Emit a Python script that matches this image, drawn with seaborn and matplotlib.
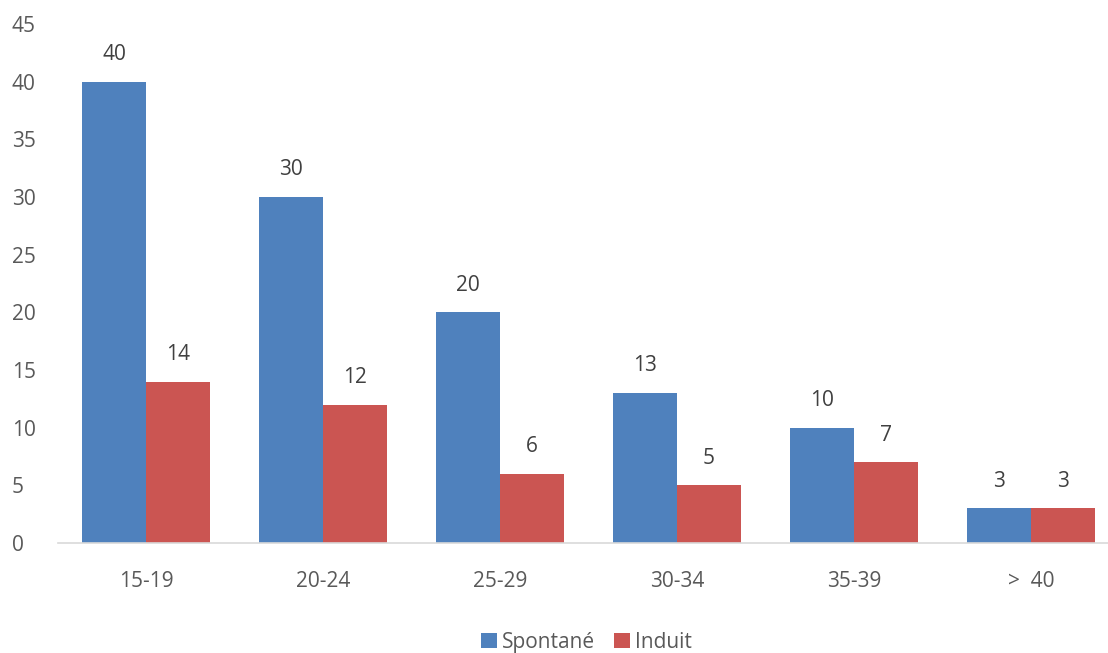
import matplotlib
matplotlib.use("Agg")
import matplotlib.pyplot as plt
import seaborn as sns
import pandas as pd

categories = ["15-19", "20-24", "25-29", "30-34", "35-39", ">  40"]
spontane = [40, 30, 20, 13, 10, 3]
induit = [14, 12, 6, 5, 7, 3]
series_names = ["Spontané", "Induit"]
colors = ["#4F81BD", "#CB5552"]

df = pd.DataFrame({
    "Age": categories * 2,
    "Valeur": spontane + induit,
    "Type": [series_names[0]] * len(categories) + [series_names[1]] * len(categories),
})

sns.set_theme(style="white")
plt.rcParams['font.family'] = ['Open Sans', 'DejaVu Sans']

fig = plt.figure(figsize=(11.08, 6.53), dpi=100)
ax = fig.add_axes([57.5 / 1108, 110 / 653, 1062 / 1108, 519 / 653])

sns.barplot(data=df, x="Age", y="Valeur", hue="Type", palette=colors,
            width=0.723, dodge=True, ax=ax, saturation=1, edgecolor="none")

ax.set_ylim(0, 45)
ax.set_yticks(range(0, 46, 5))
ax.set_xlim(-0.5, len(categories) - 0.5)
ax.set_xlabel("")
ax.set_ylabel("")
for s in ["top", "right", "left"]:
    ax.spines[s].set_visible(False)
ax.spines["bottom"].set_color("#D9D9D9")
ax.spines["bottom"].set_linewidth(1.2)
ax.tick_params(axis="both", colors="#595959", labelsize=15, length=0)
ax.tick_params(axis="x", pad=20)
ax.tick_params(axis="y", pad=33)
for lbl in ax.get_yticklabels():
    lbl.set_horizontalalignment("left")

for cont in ax.containers:
    ax.bar_label(cont, padding=12, fontsize=15, color="#404040")

leg = ax.legend(loc="upper center", bbox_to_anchor=(0.498, -0.135), ncol=2,
                frameon=False, fontsize=15, handlelength=0.75, handleheight=0.75,
                handletextpad=0.25, columnspacing=0.9, labelcolor="#595959")

fig.savefig("out.png", dpi=100)
